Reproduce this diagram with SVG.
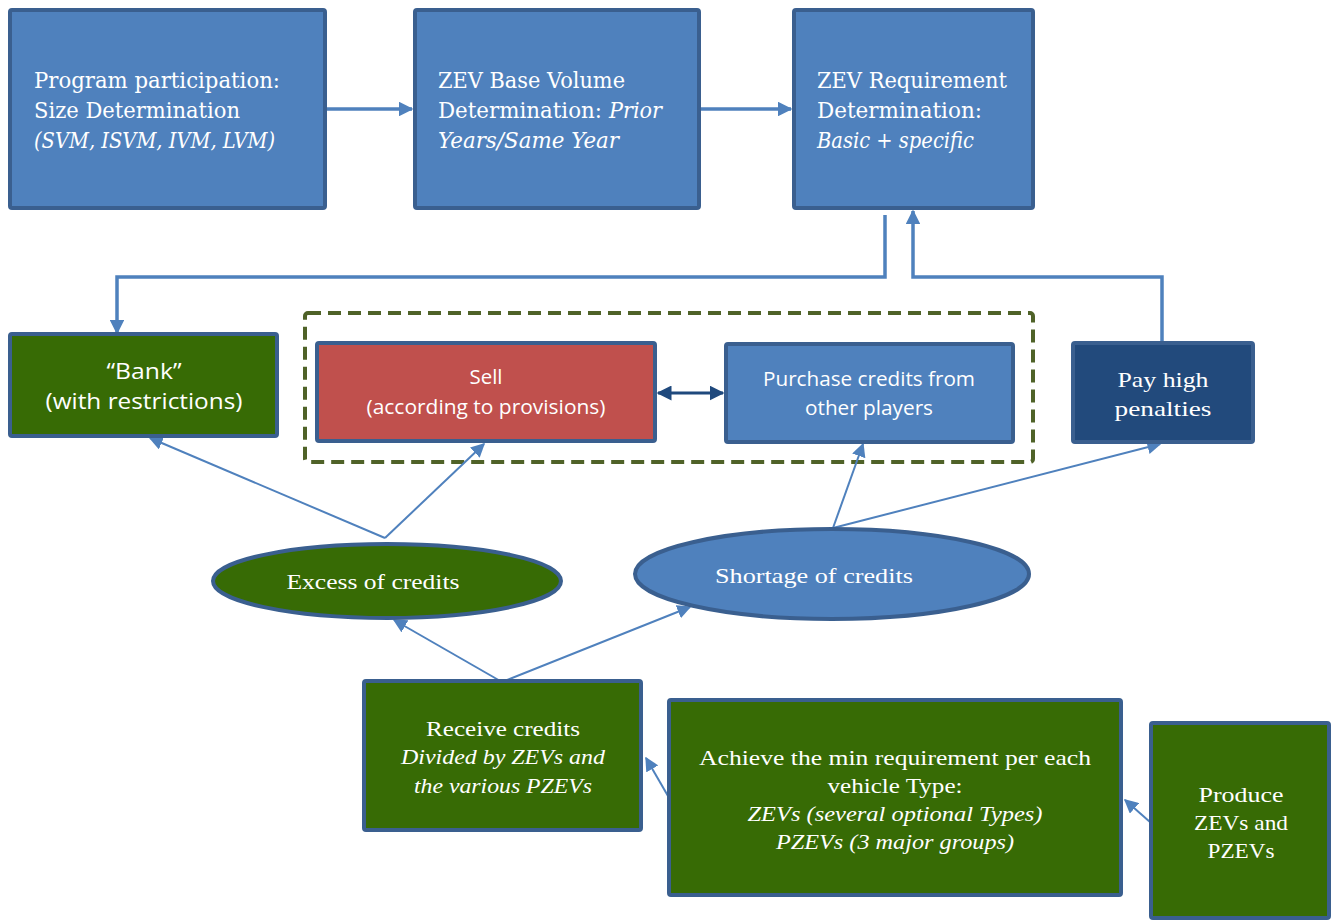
<svg xmlns="http://www.w3.org/2000/svg" width="1333" height="920" viewBox="0 0 1333 920">
<style>
.box{stroke:#3a5f8f;stroke-width:4}
.blue{fill:#4f81bd}
.green{fill:#376b05}
.red{fill:#c0504d}
.navy{fill:#224a7c}
.t{fill:#fff;font-family:"DejaVu Serif","Liberation Serif",serif;font-size:22px}
.s{fill:#fff;font-family:"Open Sans","Liberation Sans",sans-serif;font-size:19.5px}
.b{fill:#fff;font-family:"Open Sans","Liberation Sans",sans-serif;font-size:22px}
.c{fill:#fff;font-family:"Liberation Serif",serif;font-size:22px}
.i{font-style:italic}
.ln{fill:none;stroke:#4f81bd;stroke-width:3.5}
.thin{fill:none;stroke:#4f81bd;stroke-width:2}
</style>
<defs>
<marker id="ah" viewBox="0 0 10 10" refX="9" refY="5" markerWidth="4.2" markerHeight="4.2" orient="auto-start-reverse" markerUnits="strokeWidth"><path d="M0,0 L10,5 L0,10 z" fill="#4f81bd"/></marker>
<marker id="ah2" viewBox="0 0 10 10" refX="9" refY="5" markerWidth="7" markerHeight="7" orient="auto-start-reverse" markerUnits="strokeWidth"><path d="M0,0 L10,5 L0,10 z" fill="#4f81bd"/></marker>
<marker id="ahn" viewBox="0 0 10 10" refX="9" refY="5" markerWidth="5" markerHeight="5" orient="auto-start-reverse" markerUnits="strokeWidth"><path d="M0,0 L10,5 L0,10 z" fill="#1f497d"/></marker>
</defs>

<rect id="group-box" x="305" y="313" width="728" height="149" rx="3" fill="none" stroke="#4f6228" stroke-width="4" stroke-dasharray="13,7"/>

<g id="connectors">
<line class="ln" x1="326" y1="109" x2="412" y2="109" marker-end="url(#ah)"/>
<line class="ln" x1="700" y1="109" x2="791" y2="109" marker-end="url(#ah)"/>
<polyline class="ln" points="885,215 885,277 117,277 117,333" marker-end="url(#ah)"/>
<polyline class="ln" points="1162,342 1162,277 913,277 913,211" marker-end="url(#ah)"/>
<line x1="658" y1="393" x2="723" y2="393" stroke="#1f497d" stroke-width="3" marker-start="url(#ahn)" marker-end="url(#ahn)"/>
<line class="thin" x1="385" y1="538" x2="150" y2="438" marker-end="url(#ah2)"/>
<line class="thin" x1="385" y1="538" x2="484" y2="444" marker-end="url(#ah2)"/>
<line class="thin" x1="833" y1="528" x2="863" y2="444" marker-end="url(#ah2)"/>
<line class="thin" x1="833" y1="528" x2="1160" y2="444" marker-end="url(#ah2)"/>
<line class="thin" x1="502" y1="682" x2="394" y2="620" marker-end="url(#ah2)"/>
<line class="thin" x1="502" y1="682" x2="690" y2="607" marker-end="url(#ah2)"/>
<line class="thin" x1="668" y1="796" x2="646" y2="758" marker-end="url(#ah2)"/>
<line class="thin" x1="1150" y1="822" x2="1125" y2="800" marker-end="url(#ah2)"/>
</g>

<g id="program">
<rect class="box blue" x="10" y="10" width="315" height="198" rx="2"/>
<text class="t" x="34" y="88" textLength="246" lengthAdjust="spacingAndGlyphs">Program participation:</text>
<text class="t" x="34" y="118" textLength="206" lengthAdjust="spacingAndGlyphs">Size Determination</text>
<text class="t i" x="34" y="148" textLength="241" lengthAdjust="spacingAndGlyphs">(SVM, ISVM, IVM, LVM)</text>
</g>
<g id="basevolume">
<rect class="box blue" x="415" y="10" width="284" height="198" rx="2"/>
<text class="t" x="438" y="88" textLength="187" lengthAdjust="spacingAndGlyphs">ZEV Base Volume</text>
<text class="t" x="438" y="118" textLength="164" lengthAdjust="spacingAndGlyphs">Determination:</text>
<text class="t i" x="609" y="118" textLength="53" lengthAdjust="spacingAndGlyphs">Prior</text>
<text class="t i" x="438" y="148" textLength="181" lengthAdjust="spacingAndGlyphs">Years/Same Year</text>
</g>
<g id="requirement">
<rect class="box blue" x="794" y="10" width="239" height="198" rx="2"/>
<text class="t" x="817" y="88" textLength="190" lengthAdjust="spacingAndGlyphs">ZEV Requirement</text>
<text class="t" x="817" y="118" textLength="165" lengthAdjust="spacingAndGlyphs">Determination:</text>
<text class="t i" x="817" y="148" textLength="157" lengthAdjust="spacingAndGlyphs">Basic + specific</text>
</g>

<g id="bank">
<rect class="box green" x="10" y="334" width="267" height="102" rx="2"/>
<text class="b" x="144" y="379" text-anchor="middle" textLength="75" lengthAdjust="spacingAndGlyphs">“Bank”</text>
<text class="b" x="144" y="409" text-anchor="middle" textLength="197" lengthAdjust="spacingAndGlyphs">(with restrictions)</text>
</g>
<g id="sell">
<rect class="box red" x="317" y="343" width="338" height="98" rx="2"/>
<text class="s" x="486" y="384" text-anchor="middle" textLength="33" lengthAdjust="spacingAndGlyphs">Sell</text>
<text class="s" x="486" y="414" text-anchor="middle" textLength="239" lengthAdjust="spacingAndGlyphs">(according to provisions)</text>
</g>
<g id="purchase">
<rect class="box blue" x="726" y="344" width="287" height="98" rx="2"/>
<text class="s" x="869" y="386" text-anchor="middle" textLength="212" lengthAdjust="spacingAndGlyphs">Purchase credits from</text>
<text class="s" x="869" y="415" text-anchor="middle" textLength="128" lengthAdjust="spacingAndGlyphs">other players</text>
</g>
<g id="penalties">
<rect class="box navy" x="1073" y="343" width="180" height="99" rx="2"/>
<text class="c" x="1163" y="387" text-anchor="middle" textLength="91" lengthAdjust="spacingAndGlyphs">Pay high</text>
<text class="c" x="1163" y="416" text-anchor="middle" textLength="97" lengthAdjust="spacingAndGlyphs">penalties</text>
</g>

<g id="excess">
<ellipse cx="387" cy="581" rx="174" ry="37" fill="#376b05" stroke="#3a5f8f" stroke-width="4"/>
<text class="c" x="373" y="589" text-anchor="middle" textLength="173" lengthAdjust="spacingAndGlyphs">Excess of credits</text>
</g>
<g id="shortage">
<ellipse cx="832" cy="574" rx="197" ry="45" fill="#4f81bd" stroke="#3a5f8f" stroke-width="4"/>
<text class="c" x="814" y="583" text-anchor="middle" textLength="198" lengthAdjust="spacingAndGlyphs">Shortage of credits</text>
</g>

<g id="receive">
<rect class="box green" x="364" y="681" width="277" height="149" rx="2"/>
<text class="c" x="503" y="736" text-anchor="middle" textLength="154" lengthAdjust="spacingAndGlyphs">Receive credits</text>
<text class="c i" x="503" y="764" text-anchor="middle" textLength="204" lengthAdjust="spacingAndGlyphs">Divided by ZEVs and</text>
<text class="c i" x="503" y="793" text-anchor="middle" textLength="178" lengthAdjust="spacingAndGlyphs">the various PZEVs</text>
</g>
<g id="achieve">
<rect class="box green" x="669" y="700" width="452" height="195" rx="2"/>
<text class="c" x="895" y="765" text-anchor="middle" textLength="392" lengthAdjust="spacingAndGlyphs">Achieve the min requirement per each</text>
<text class="c" x="895" y="793" text-anchor="middle" textLength="135" lengthAdjust="spacingAndGlyphs">vehicle Type:</text>
<text class="c i" x="895" y="821" text-anchor="middle" textLength="295" lengthAdjust="spacingAndGlyphs">ZEVs (several optional Types)</text>
<text class="c i" x="895" y="849" text-anchor="middle" textLength="238" lengthAdjust="spacingAndGlyphs">PZEVs (3 major groups)</text>
</g>
<g id="produce">
<rect class="box green" x="1151" y="723" width="178" height="195" rx="2"/>
<text class="c" x="1241" y="802" text-anchor="middle" textLength="85" lengthAdjust="spacingAndGlyphs">Produce</text>
<text class="c" x="1241" y="830" text-anchor="middle" textLength="94" lengthAdjust="spacingAndGlyphs">ZEVs and</text>
<text class="c" x="1241" y="858" text-anchor="middle" textLength="67" lengthAdjust="spacingAndGlyphs">PZEVs</text>
</g>
</svg>
